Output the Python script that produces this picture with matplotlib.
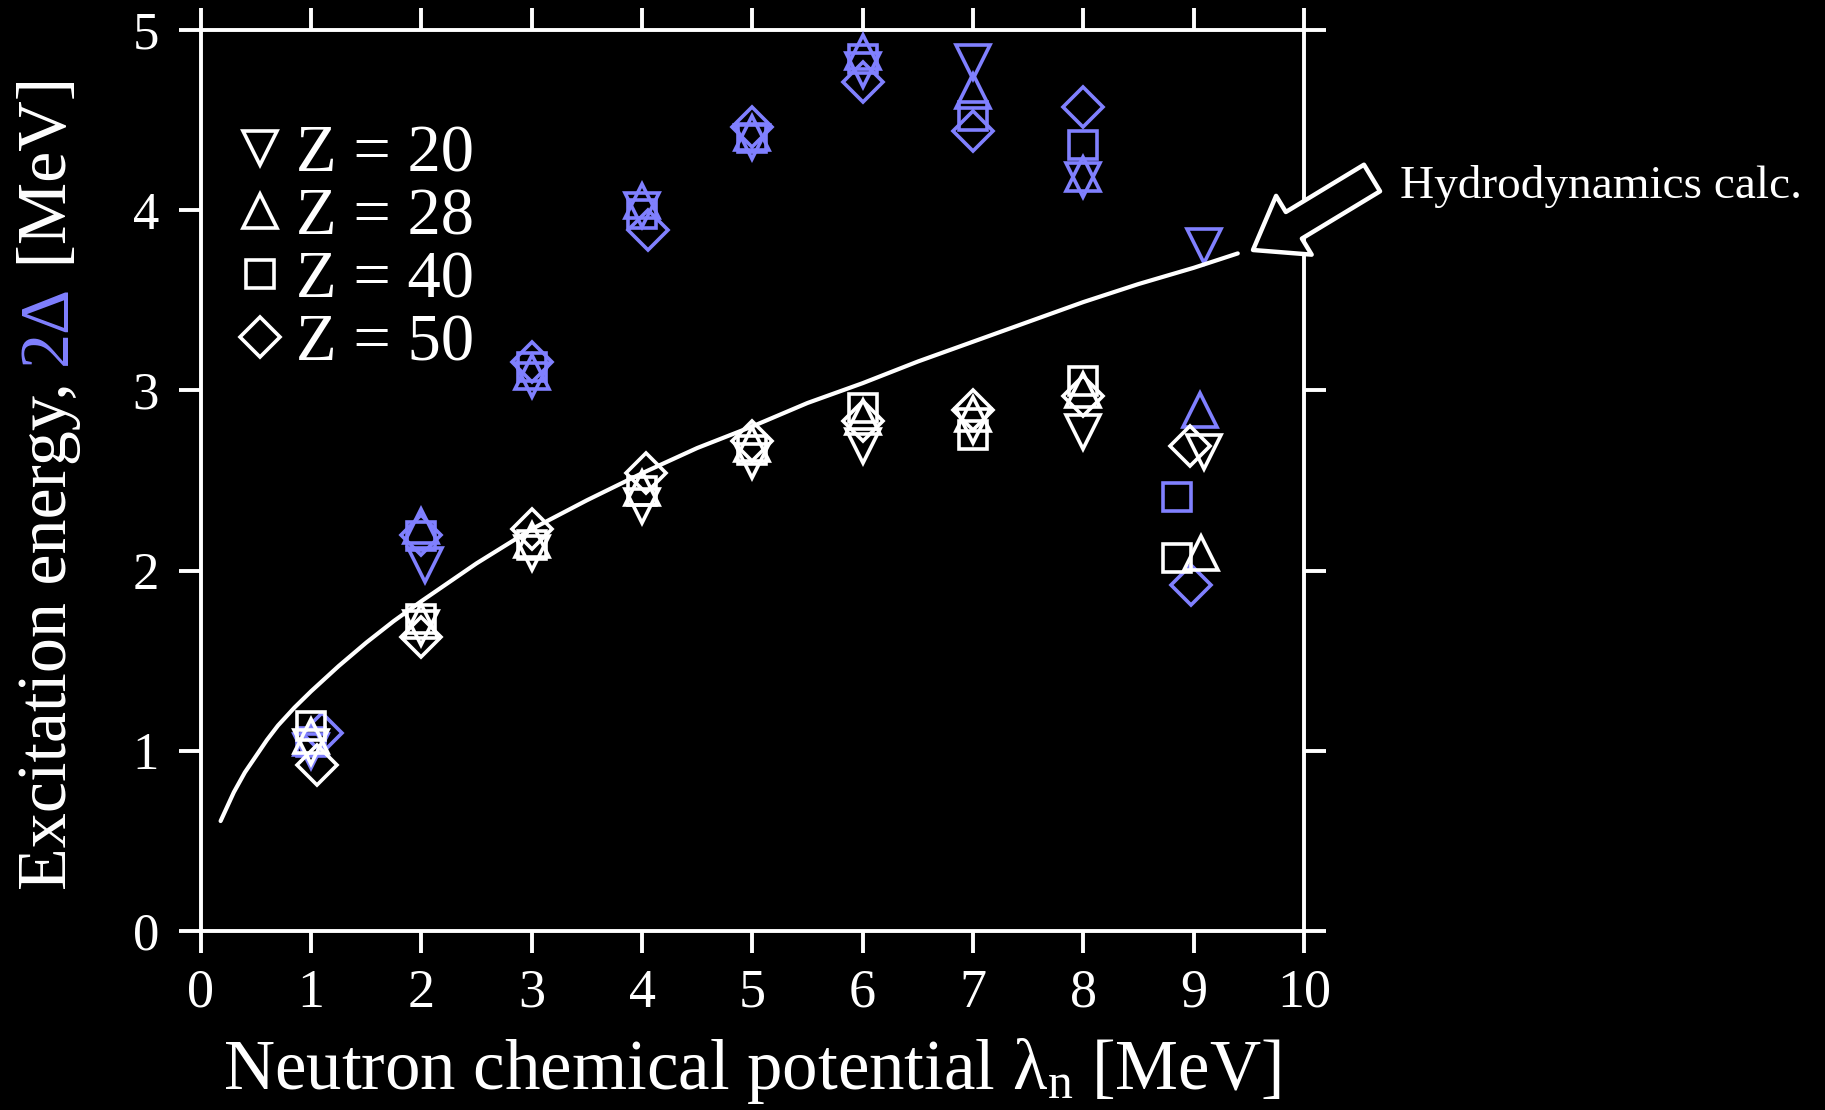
import numpy as np
import matplotlib
matplotlib.use("Agg")
import matplotlib.pyplot as plt
from matplotlib.lines import Line2D

# ============================================================
# DATA
# ============================================================

Z_LABELS = ["Z = 20", "Z = 28", "Z = 40", "Z = 50"]
MARKERS = ["v", "^", "s", "D"]

# neutron chemical potential for each point (white / blue)
lam_white = [
    [1.0, 2.0, 3.0, 4.0, 5.0, 6.0, 7.0, 8.0, 9.09],
    [1.0, 2.0, 3.0, 4.0, 5.0, 6.0, 7.0, 8.0, 9.07],
    [1.0, 2.0, 3.0, 4.0, 5.0, 6.0, 7.0, 8.0, 8.85],
    [1.05, 2.0, 3.0, 4.04, 5.0, 6.0, 7.0, 8.0, 8.97],
]
lam_blue = [
    [1.0, 2.03, 3.0, 4.0, 5.0, 6.0, 7.0, 8.0, 9.09],
    [1.0, 2.0, 3.0, 4.0, 5.0, 6.0, 7.0, 8.0, 9.06],
    [1.0, 2.0, 3.0, 4.0, 5.0, 6.0, 7.0, 8.0, 8.85],
    [1.1, 2.0, 3.0, 4.05, 5.0, 6.0, 7.0, 8.0, 8.98],
]

# excitation energy (white) and 2*Delta (blue)
exc_white = [
    [1.02, 1.68, 2.10, 2.36, 2.61, 2.69, 2.80, 2.77, 2.66],
    [1.08, 1.72, 2.17, 2.46, 2.70, 2.85, 2.87, 3.00, 2.10],
    [1.14, 1.73, 2.14, 2.44, 2.67, 2.90, 2.75, 3.05, 2.07],
    [0.92, 1.63, 2.23, 2.54, 2.72, 2.83, 2.89, 2.97, 2.69],
]
gap_blue = [
    [1.00, 2.03, 3.06, 4.00, 4.38, 4.78, 4.82, 4.17, 3.80],
    [1.07, 2.25, 3.10, 4.05, 4.43, 4.88, 4.66, 4.20, 2.89],
    [1.05, 2.19, 3.13, 3.98, 4.40, 4.84, 4.52, 4.36, 2.41],
    [1.10, 2.20, 3.16, 3.89, 4.46, 4.71, 4.44, 4.57, 1.92],
]

# hydrodynamics curve
hydro_lam = [0.18, 0.24, 0.3, 0.4, 0.5, 0.6, 0.7, 0.85, 1.0, 1.25, 1.5, 1.75,
             2.0, 2.5, 3.0, 3.5, 4.0, 4.5, 5.0, 5.5, 6.0, 6.5, 7.0, 7.5,
             8.0, 8.5, 9.0, 9.4]
hydro_E = [0.61, 0.69, 0.77, 0.88, 0.97, 1.06, 1.14, 1.24, 1.33, 1.47, 1.60, 1.72,
           1.83, 2.04, 2.23, 2.39, 2.54, 2.68, 2.80, 2.93, 3.04, 3.16, 3.27, 3.38,
           3.49, 3.59, 3.68, 3.76]

# ============================================================
# STYLE
# ============================================================

BLUE = "#8080ff"
WHITE = "white"
FONT = "Liberation Serif"

plt.rcParams["font.family"] = [FONT, "DejaVu Serif"]
plt.rcParams["mathtext.fontset"] = "custom"
plt.rcParams["mathtext.rm"] = FONT
plt.rcParams["mathtext.it"] = FONT

MS = {"v": 24, "^": 24, "s": 20, "D": 20}

fig = plt.figure(figsize=(18.25, 11.1), dpi=100, facecolor="black")
ax = fig.add_axes([0.110, 0.1613, 0.6045, 0.8117], facecolor="black")

# blue first, white drawn on top
for lx, vals, m in zip(lam_blue, gap_blue, MARKERS):
    ax.plot(lx, vals, linestyle="none", marker=m, ms=MS[m], mfc="none",
            mec=BLUE, mew=2.6, zorder=3)
for lx, vals, m in zip(lam_white, exc_white, MARKERS):
    ax.plot(lx, vals, linestyle="none", marker=m, ms=MS[m], mfc="none",
            mec=WHITE, mew=2.6, zorder=4)

ax.plot(hydro_lam, hydro_E, color=WHITE, lw=3.0, zorder=5,
        solid_joinstyle="round", solid_capstyle="round")

ax.set_xlim(0, 10)
ax.set_ylim(0, 5)
ax.set_xticks(range(0, 11))
ax.set_yticks(range(0, 6))

for sp in ax.spines.values():
    sp.set_color(WHITE)
    sp.set_linewidth(2.8)

ax.tick_params(axis="both", which="major", direction="out", length=16,
               width=2.8, color=WHITE, labelcolor=WHITE,
               top=True, right=True, labeltop=False, labelright=False)
ax.tick_params(axis="x", labelsize=39, pad=11)
ax.tick_params(axis="y", labelsize=38, pad=14)

ax.set_xlabel(r"Neutron chemical potential λ$_\mathrm{n}$ [MeV]",
              color=WHITE, fontsize=51, labelpad=12)

# legend
handles = [Line2D([], [], linestyle="none", marker=m, ms=MS[m], mfc="none",
                  mec=WHITE, mew=2.6) for m in MARKERS]
ax.legend(handles, Z_LABELS, loc="upper left", bbox_to_anchor=(0.005, 0.925),
          frameon=False, fontsize=48, labelcolor=WHITE, handlelength=0.8,
          handletextpad=0.15, labelspacing=0.03, borderaxespad=0.0)

# y label with coloured 2Δ
renderer = fig.canvas.get_renderer()
parts = [("Excitation energy, ", WHITE), ("2Δ", BLUE), (" [MeV]", WHITE)]
y_start = 0.198
x_lab = 0.027
for txt, col in parts:
    t = fig.text(x_lab, y_start, txt, rotation=90, color=col, fontsize=50.5,
                 ha="center", va="bottom")
    bb = t.get_window_extent(renderer=renderer)
    y_start += bb.height / fig.bbox.height

# annotation arrow + text
ax.annotate("", xy=(1253, 860), xytext=(1372, 932),
            xycoords="figure pixels", textcoords="figure pixels",
            arrowprops=dict(arrowstyle="simple,head_length=0.8,head_width=1.15,tail_width=0.52",
                            mutation_scale=43, fc="black", ec=WHITE, lw=3.2,
                            shrinkA=0, shrinkB=0),
            annotation_clip=False, zorder=10)
fig.text(1400 / 1825, 924 / 1110, "Hydrodynamics calc.", color=WHITE,
         fontsize=34, ha="left", va="center")

fig.savefig("out.png", dpi=100, facecolor="black")
